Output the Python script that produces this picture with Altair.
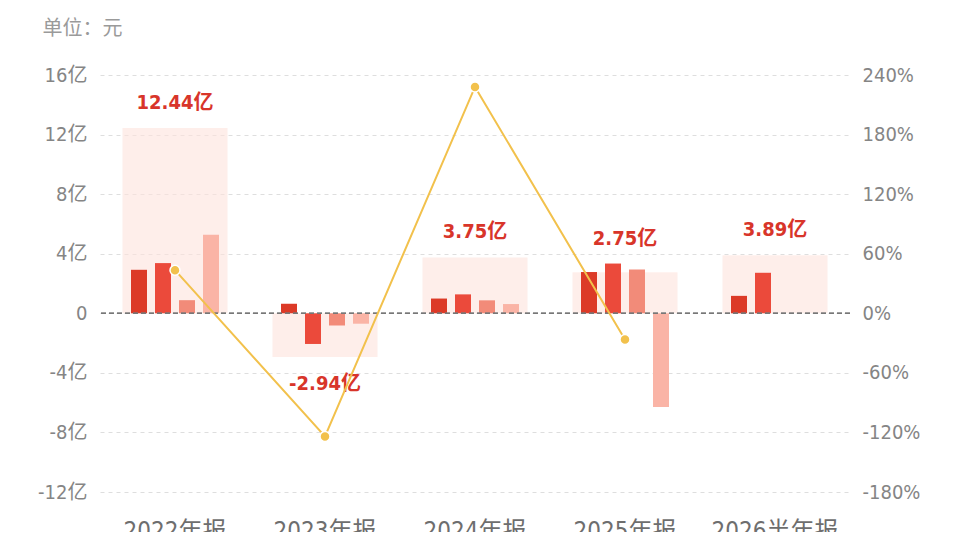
import altair as alt
import pandas as pd

periods = ["2022年报", "2023年报", "2024年报", "2025年报", "2026半年报"]
totals = [12.44, -2.94, 3.75, 2.75, 3.89]
quarters = ["Q1", "Q2", "Q3", "Q4"]
q1 = [2.92, 0.64, 0.99, 2.77, 1.17]
q2 = [3.37, -2.06, 1.27, 3.34, 2.72]
q3 = [0.88, -0.82, 0.87, 2.94, None]
q4 = [5.27, -0.70, 0.62, -6.30, None]
growth = [43.4, -124.0, 228.0, -26.5, None]

quarter_colors = ["#dc3a27", "#eb4a3b", "#f28b79", "#fab4a6"]
FONT = "Liberation Sans Narrow, DejaVu Sans Condensed, Noto Sans CJK SC, sans-serif"

# tables
tot_rows = []
for p, t, a, b, c, d in zip(periods, totals, q1, q2, q3, q4):
    vals = [v for v in (a, b, c, d) if v is not None]
    anchor = max([t] + vals) if t >= 0 else min([t] + vals)
    tot_rows.append({"period": p, "total": t, "anchor": anchor,
                     "label": f"{t:.2f}亿", "sign": "pos" if t >= 0 else "neg"})
tot_df = pd.DataFrame(tot_rows)

q_rows = []
for i, p in enumerate(periods):
    for qn, arr in zip(quarters, (q1, q2, q3, q4)):
        if arr[i] is not None:
            q_rows.append({"period": p, "quarter": qn, "value": arr[i]})
q_df = pd.DataFrame(q_rows)

g_df = pd.DataFrame({"period": periods, "growth": growth}).dropna()

x_enc = alt.X("period:N", sort=periods,
              scale=alt.Scale(paddingInner=0.3, paddingOuter=0.15),
              axis=alt.Axis(title=None, labelFontSize=24, labelColor="#6e6e6e",
                            labelFont=FONT, ticks=False, domain=False,
                            labelPadding=27, labelAngle=0))

y_left = alt.Y("total:Q",
               scale=alt.Scale(domain=[-12, 16], nice=False, zero=False),
               axis=alt.Axis(values=[-12, -8, -4, 0, 4, 8, 12, 16],
                             labelExpr="datum.value == 0 ? '0' : datum.value + '亿'",
                             labelFontSize=20, labelColor="#858585", labelFont=FONT,
                             labelPadding=13, ticks=False, domain=False,
                             grid=True, gridColor="#dedede", gridDash=[4, 4],
                             title="单位：元", titleAngle=0, titleAlign="left",
                             titleBaseline="middle", titleX=-58, titleY=-47,
                             titleFontSize=20, titleFontWeight="normal",
                             titleColor="#9a9a9a", titleFont=FONT, orient="left"))

shade = alt.Chart(tot_df).mark_bar(color="#fde3dc", opacity=0.6).encode(
    x=x_enc, y=y_left)

bars = alt.Chart(q_df).mark_bar().encode(
    x=x_enc,
    xOffset=alt.XOffset("quarter:N", sort=quarters,
                        scale=alt.Scale(paddingInner=1/3, paddingOuter=0.354)),
    y=alt.Y("value:Q"),
    color=alt.Color("quarter:N", sort=quarters,
                    scale=alt.Scale(domain=quarters, range=quarter_colors),
                    legend=None))

zero = alt.Chart(tot_df).mark_rule(color="#777777", strokeDash=[5, 3], strokeWidth=1).encode(
    y=alt.datum(0))

lab_pos = alt.Chart(tot_df).transform_filter("datum.sign == 'pos'").mark_text(
    color="#d8352a", fontSize=20, fontWeight="bold", font=FONT,
    baseline="middle", dy=-25).encode(
    x=x_enc, y=alt.Y("anchor:Q"), text="label:N")

lab_neg = alt.Chart(tot_df).transform_filter("datum.sign == 'neg'").mark_text(
    color="#d8352a", fontSize=20, fontWeight="bold", font=FONT,
    baseline="middle", dy=27).encode(
    x=x_enc, y=alt.Y("anchor:Q"), text="label:N")

left = alt.layer(shade, bars, zero, lab_pos, lab_neg)

y_right = alt.Y("growth:Q",
                scale=alt.Scale(domain=[-180, 240], nice=False, zero=False),
                axis=alt.Axis(values=[-180, -120, -60, 0, 60, 120, 180, 240],
                              labelExpr="datum.value + '%'",
                              labelFontSize=20, labelColor="#858585", labelFont=FONT,
                              labelPadding=12, ticks=False, domain=False, grid=False,
                              title=None, orient="right"))

line = alt.Chart(g_df).mark_line(color="#f2c14c", strokeWidth=2).encode(
    x=x_enc, y=y_right)
pts = alt.Chart(g_df).mark_point(filled=True, color="#f2c14c", size=100, opacity=1,
                                 stroke="white", strokeWidth=1.5).encode(
    x=x_enc, y=alt.Y("growth:Q"))

right = alt.layer(line, pts)

chart = alt.layer(left, right).resolve_scale(y="independent").properties(
    width=750, height=417,
    padding={"left": 92, "top": 67, "right": 100, "bottom": 40},
    autosize=alt.AutoSizeParams(type="none"),
    background="white",
).configure_view(strokeWidth=0, stroke=None).configure_axis(domain=False)

chart.save("out.html", embed_options={"renderer": "svg", "actions": False})
